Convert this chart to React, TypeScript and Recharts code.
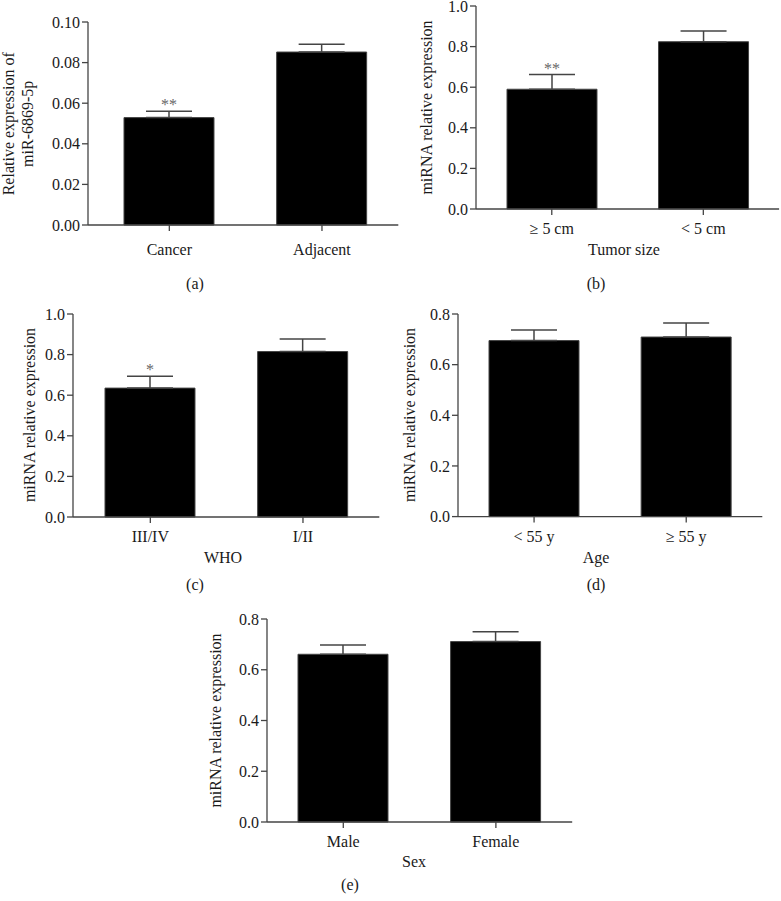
import React from 'react';
import { BarChart, Bar, XAxis, YAxis, ErrorBar, LabelList } from 'recharts';

// panel (a) cancer vs adjacent
const catsA = ['Cancer', 'Adjacent'];
const valsA = [0.0529, 0.0852];
const errsA = [0.0031, 0.0038];
const starsA = ['**', ''];
const ticksA = [0, 0.02, 0.04, 0.06, 0.08, 0.1];

// panel (b) tumor size
const catsB = ['\u2265 5 cm', '< 5 cm'];
const valsB = [0.59, 0.824];
const errsB = [0.072, 0.053];
const starsB = ['**', ''];

// panel (c) WHO grade
const catsC = ['III/IV', 'I/II'];
const valsC = [0.635, 0.815];
const errsC = [0.058, 0.062];
const starsC = ['*', ''];

const ticksOne = [0, 0.2, 0.4, 0.6, 0.8, 1.0];

// panel (d) age
const catsD = ['< 55 y', '\u2265 55 y'];
const valsD = [0.695, 0.709];
const errsD = [0.042, 0.055];

// panel (e) sex
const catsE = ['Male', 'Female'];
const valsE = [0.661, 0.711];
const errsE = [0.037, 0.039];

const ticksEight = [0, 0.2, 0.4, 0.6, 0.8];

const font = '"Liberation Serif", "Times New Roman", serif';
const ink = '#1a1a1a';
const lineColor = '#444';

const YW = 80;
const MT = 10;
const XH = 30;
const MB = 70;

type PanelProps = {
  cats: string[];
  vals: number[];
  errs: number[];
  stars?: string[];
  ticks: number[];
  decimals: number;
  axisX: number;
  plotTop: number;
  plotBottom: number;
  plotRight: number;
  padLeft: number;
  tickMargin: number;
};

const Panel = (p: PanelProps) => {
  const data = p.cats.map((name, i) => ({
    name,
    value: p.vals[i],
    err: [0, p.errs[i]],
    stars: p.stars ? p.stars[i] : '',
  }));
  const width = YW + (p.plotRight - p.axisX) + 2;
  const height = MT + (p.plotBottom - p.plotTop) + XH + MB;

  const renderStars = (props: any) => {
    const { x, y, width: w, height: h, index } = props;
    const s = p.stars ? p.stars[index] : '';
    if (!s) return null;
    const v = p.vals[index];
    const capY = y - p.errs[index] * (h / v);
    return (
      <text x={x + w / 2} y={capY - 1} textAnchor="middle" fontSize={16} fontFamily={font} fill="#666">
        {s}
      </text>
    );
  };

  return (
    <div style={{ position: 'absolute', left: p.axisX - YW, top: p.plotTop - MT }}>
      <BarChart width={width} height={height} data={data} margin={{ top: MT, right: 2, bottom: MB, left: 0 }}>
        <XAxis
          dataKey="name"
          height={XH}
          padding={{ left: p.padLeft, right: 0 }}
          axisLine={{ stroke: lineColor, strokeWidth: 1.3 }}
          tickLine={{ stroke: lineColor, strokeWidth: 1.3 }}
          tickMargin={p.tickMargin}
          tick={{ fill: ink, fontSize: 16, fontFamily: font }}
          interval={0}
        />
        <YAxis
          width={YW}
          domain={[0, p.ticks[p.ticks.length - 1]]}
          ticks={p.ticks}
          interval={0}
          tickFormatter={(v: number) => v.toFixed(p.decimals)}
          axisLine={{ stroke: lineColor, strokeWidth: 1.3 }}
          tickLine={{ stroke: lineColor, strokeWidth: 1.3 }}
          tick={{ fill: ink, fontSize: 16, fontFamily: font }}
        />
        <Bar dataKey="value" fill="#000" stroke={lineColor} strokeWidth={1} barSize={90} isAnimationActive={false}>
          <ErrorBar dataKey="err" direction="y" width={23} stroke={lineColor} strokeWidth={1.5} />
          <LabelList dataKey="stars" content={renderStars} />
        </Bar>
      </BarChart>
    </div>
  );
};

const t = (x: number, y: number, s: string, rotate = false) => (
  <text
    key={s + x}
    x={x}
    y={y}
    textAnchor="middle"
    dominantBaseline="central"
    fontSize={16}
    fontFamily={font}
    fill={ink}
    transform={rotate ? `rotate(-90 ${x} ${y})` : undefined}
  >
    {s}
  </text>
);

export default function App() {
  return (
    <div style={{ position: 'absolute', left: 0, top: 0, width: 781, height: 901, background: '#fff' }}>
      <Panel cats={catsA} vals={valsA} errs={errsA} stars={starsA} ticks={ticksA} decimals={2}
        axisX={87.7} plotTop={22.3} plotBottom={225.3} plotRight={398} padLeft={5} tickMargin={13} />
      <Panel cats={catsB} vals={valsB} errs={errsB} stars={starsB} ticks={ticksOne} decimals={1}
        axisX={476.3} plotTop={6} plotBottom={209} plotRight={779.4} padLeft={0} tickMargin={8} />
      <Panel cats={catsC} vals={valsC} errs={errsC} stars={starsC} ticks={ticksOne} decimals={1}
        axisX={72.7} plotTop={313.7} plotBottom={516.7} plotRight={379} padLeft={1} tickMargin={8} />
      <Panel cats={catsD} vals={valsD} errs={errsD} ticks={ticksEight} decimals={1}
        axisX={457.7} plotTop={313.7} plotBottom={516.3} plotRight={762} padLeft={0} tickMargin={8} />
      <Panel cats={catsE} vals={valsE} errs={errsE} ticks={ticksEight} decimals={1}
        axisX={267.3} plotTop={619} plotBottom={822} plotRight={572.5} padLeft={0} tickMargin={8} />
      <svg width={781} height={901} style={{ position: 'absolute', left: 0, top: 0, pointerEvents: 'none' }}>
        {t(8.5, 123.8, 'Relative expression of', true)}
        {t(28, 123.8, 'miR-6869-5p', true)}
        {t(426.7, 107.5, 'miRNA relative expression', true)}
        {t(29, 415, 'miRNA relative expression', true)}
        {t(409, 415, 'miRNA relative expression', true)}
        {t(215, 720.5, 'miRNA relative expression', true)}
        {t(624, 249, 'Tumor size')}
        {t(223, 557, 'WHO')}
        {t(596, 557, 'Age')}
        {t(414, 861, 'Sex')}
        {t(195, 283, '(a)')}
        {t(596, 283, '(b)')}
        {t(195, 584, '(c)')}
        {t(596, 584, '(d)')}
        {t(350, 884, '(e)')}
      </svg>
    </div>
  );
}
